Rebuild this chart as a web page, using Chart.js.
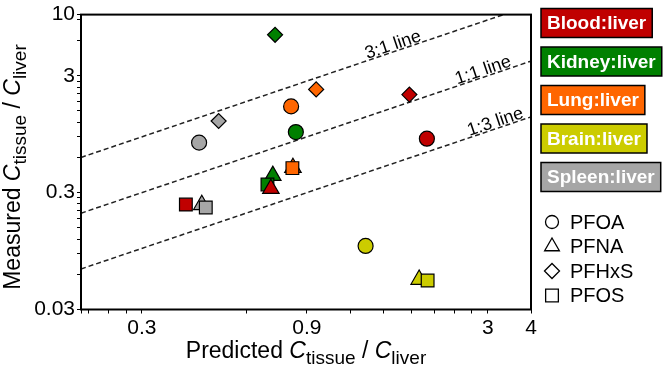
<!DOCTYPE html>
<html><head><meta charset="utf-8">
<script src="https://cdn.jsdelivr.net/npm/chart.js@4/dist/chart.umd.min.js"></script>
<style>html,body{margin:0;padding:0;background:#fff}#wrap{width:664px;height:367px;position:relative}</style>
</head><body><div id="wrap"><canvas id="c" width="664" height="367"></canvas></div>
<script>
// ---------- data ----------
const tissues = ['Blood:liver', 'Kidney:liver', 'Lung:liver', 'Brain:liver', 'Spleen:liver'];
const compounds = ['PFOA', 'PFNA', 'PFHxS', 'PFOS'];
// values ordered as compounds: PFOA, PFNA, PFHxS, PFOS
const bloodPred  = [2.0,   0.708, 1.78,  0.402];
const bloodMeas  = [0.868, 0.324, 2.07,  0.237];
const kidneyPred = [0.836, 0.717, 0.728, 0.692];
const kidneyMeas = [0.989, 0.419, 6.72,  0.352];
const lungPred   = [0.81,  0.82,  0.957, 0.817];
const lungMeas   = [1.64,  0.49,  2.29,  0.486];
const brainPred  = [1.33,  1.90,  null,  2.01];
const brainMeas  = [0.105, 0.0541, null, 0.0531];
const spleenPred = [0.439, 0.447, 0.50,  0.459];
const spleenMeas = [0.803, 0.236, 1.23,  0.224];
const refRatios = [3, 1, 1 / 3];
const refLabels = ['3:1 line', '1:1 line', '1:3 line'];
const xTickLabels = [0.3, 0.9, 3, 4];
const yTickLabels = [0.03, 0.3, 3, 10];
const xRange = [0.2, 4];
const yRange = [0.03, 10];

// ---------- styles ----------
const FONT = "'Liberation Sans', Arial, Helvetica, sans-serif";
const tissueColors = ['#C00000', '#008000', '#FF6600', '#CCCC00', '#A6A6A6'];
const shapeStyles = ['circle', 'triangle', 'rectRot', 'rect'];
const shapeRadii = [7.5, 9.5, 7.5, 9];
const refLabelAt = [1.62, 2.95, 3.2];

const predSets = [bloodPred, kidneyPred, lungPred, brainPred, spleenPred];
const measSets = [bloodMeas, kidneyMeas, lungMeas, brainMeas, spleenMeas];

function minorTicks(min, max) {
  const out = [];
  const add = v => { if (v >= min * 0.999 && v <= max * 1.001 && !out.some(o => Math.abs(o - v) < v * 1e-6)) out.push(v); };
  [0.003, 0.03, 0.3, 3, 30].forEach(b => { for (let k = 1; k <= 10; k++) add(+(b * k).toPrecision(10)); });
  add(min); add(max);
  return out.sort((a, b) => a - b);
}
function labelFor(list) {
  return v => { const m = list.find(l => Math.abs(l - v) < l * 1e-6); return m === undefined ? '' : String(m); };
}

const datasets = [];
tissues.forEach((t, i) => {
  const keep = (s, j) => predSets[i][j] != null && measSets[i][j] != null;
  datasets.push({
    type: 'scatter', label: t,
    data: compounds.map((c, j) => ({ x: predSets[i][j], y: measSets[i][j] })).filter(keep),
    pointStyle: shapeStyles.filter(keep),
    pointRadius: shapeRadii.filter(keep),
    pointHoverRadius: shapeRadii.filter(keep),
    backgroundColor: tissueColors[i], borderColor: '#000', borderWidth: 1.2, order: i
  });
});
refRatios.forEach((r, i) => {
  datasets.push({
    type: 'line', label: refLabels[i],
    data: xRange.map(x => ({ x: x, y: x * r })),
    borderColor: '#222', borderWidth: 1.5, borderDash: [5, 3], pointRadius: 0, fill: false, order: 10 + i
  });
});

function richSegs(lead) {
  return [
    { t: lead + ' ', s: 23, it: false, dy: 0 },
    { t: 'C', s: 23, it: true, dy: 0 },
    { t: 'tissue', s: 19, it: false, dy: 6 },
    { t: ' / ', s: 23, it: false, dy: 0 },
    { t: 'C', s: 23, it: true, dy: 0 },
    { t: 'liver', s: 19, it: false, dy: 6 }
  ];
}
function drawRich(ctx, segs, cx, y) {
  let w = 0;
  segs.forEach(s => { ctx.font = (s.it ? 'italic ' : '') + s.s + 'px ' + FONT; s.w = ctx.measureText(s.t).width; w += s.w; });
  let x = cx - w / 2;
  ctx.textAlign = 'left'; ctx.textBaseline = 'alphabetic'; ctx.fillStyle = '#000';
  segs.forEach(s => { ctx.font = (s.it ? 'italic ' : '') + s.s + 'px ' + FONT; ctx.fillText(s.t, x, y + s.dy); x += s.w; });
}
function shapePath(ctx, style, x, y, r) {
  ctx.beginPath();
  if (style === 'circle') ctx.arc(x, y, r, 0, Math.PI * 2);
  else if (style === 'triangle') { ctx.moveTo(x, y - r); ctx.lineTo(x + r * 0.866, y + r * 0.5); ctx.lineTo(x - r * 0.866, y + r * 0.5); ctx.closePath(); }
  else if (style === 'rectRot') { ctx.moveTo(x - r, y); ctx.lineTo(x, y - r); ctx.lineTo(x + r, y); ctx.lineTo(x, y + r); ctx.closePath(); }
  else { const h = r * Math.SQRT1_2; ctx.rect(x - h, y - h, 2 * h, 2 * h); }
}

const decor = {
  id: 'decor',
  afterDraw(chart) {
    const ctx = chart.ctx, a = chart.chartArea, xs = chart.scales.x, ys = chart.scales.y;
    ctx.save();
    // frame
    ctx.strokeStyle = '#000'; ctx.lineWidth = 2;
    ctx.strokeRect(a.left, a.top, a.right - a.left, a.bottom - a.top);
    // reference line labels
    refRatios.forEach((r, i) => {
      const xv = refLabelAt[i];
      const px = xs.getPixelForValue(xv), py = ys.getPixelForValue(xv * r);
      const px2 = xs.getPixelForValue(xv * 1.2), py2 = ys.getPixelForValue(xv * 1.2 * r);
      const ang = Math.atan2(py2 - py, px2 - px);
      ctx.save();
      ctx.translate(px, py); ctx.rotate(ang);
      ctx.font = '18px ' + FONT; ctx.fillStyle = '#000'; ctx.textAlign = 'center'; ctx.textBaseline = 'alphabetic';
      ctx.fillText(refLabels[i], 0, -1.5);
      ctx.restore();
    });
    // axis titles
    drawRich(ctx, richSegs('Predicted'), (a.left + a.right) / 2, 358);
    ctx.save();
    ctx.translate(20, (a.top + a.bottom) / 2 + 5); ctx.rotate(-Math.PI / 2);
    drawRich(ctx, richSegs('Measured'), 0, 0);
    ctx.restore();
    // tissue legend boxes
    const lx = 541, ly = 8.5, gap = 38.5, bh = 29;
    ctx.font = 'bold 19px ' + FONT;
    tissues.forEach((t, i) => {
      const tw = ctx.measureText(t).width;
      const y = ly + i * gap;
      ctx.fillStyle = tissueColors[i];
      ctx.fillRect(lx, y, tw + 12, bh);
      ctx.strokeStyle = '#000'; ctx.lineWidth = 1.5;
      ctx.strokeRect(lx, y, tw + 12, bh);
      ctx.fillStyle = '#fff'; ctx.textAlign = 'left'; ctx.textBaseline = 'middle';
      ctx.fillText(t, lx + 6, y + bh / 2 + 1);
    });
    // compound legend
    const sy = 222, sg = 24.5;
    const legR = [6.5, 8.5, 7.5, 9];
    compounds.forEach((c, j) => {
      const y = sy + j * sg;
      shapePath(ctx, shapeStyles[j], 552, y, legR[j]);
      ctx.fillStyle = '#fff'; ctx.fill();
      ctx.strokeStyle = '#000'; ctx.lineWidth = 1.3; ctx.stroke();
      ctx.fillStyle = '#000'; ctx.font = '20px ' + FONT; ctx.textAlign = 'left'; ctx.textBaseline = 'middle';
      ctx.fillText(c, 570, y + 1);
    });
    ctx.restore();
  }
};

new Chart(document.getElementById('c'), {
  data: { datasets: datasets },
  options: {
    responsive: false, animation: false, devicePixelRatio: 1,
    layout: { padding: { left: 0, top: 9.5, right: 133, bottom: 0 } },
    plugins: { legend: { display: false }, tooltip: { enabled: false } },
    scales: {
      x: {
        type: 'logarithmic', min: xRange[0], max: xRange[1],
        afterBuildTicks: s => { s.ticks = minorTicks(xRange[0], xRange[1]).map(v => ({ value: v })); },
        afterFit: s => { s.height = 57.5; },
        ticks: { callback: labelFor(xTickLabels), autoSkip: false, maxRotation: 0, minRotation: 0, color: '#000', padding: 2, font: { family: FONT, size: 21 } },
        grid: { display: true, drawOnChartArea: false, drawTicks: true, tickLength: 4, color: '#000', lineWidth: 1 },
        border: { display: false }
      },
      y: {
        type: 'logarithmic', min: yRange[0], max: yRange[1],
        afterBuildTicks: s => { s.ticks = minorTicks(yRange[0], yRange[1]).map(v => ({ value: v })); },
        afterFit: s => { s.width = 81; },
        ticks: { callback: labelFor(yTickLabels), autoSkip: false, color: '#000', padding: 2, font: { family: FONT, size: 21 } },
        grid: { display: true, drawOnChartArea: false, drawTicks: true, tickLength: 4, color: '#000', lineWidth: 1 },
        border: { display: false }
      }
    }
  },
  plugins: [decor]
});
</script>
</body></html>
